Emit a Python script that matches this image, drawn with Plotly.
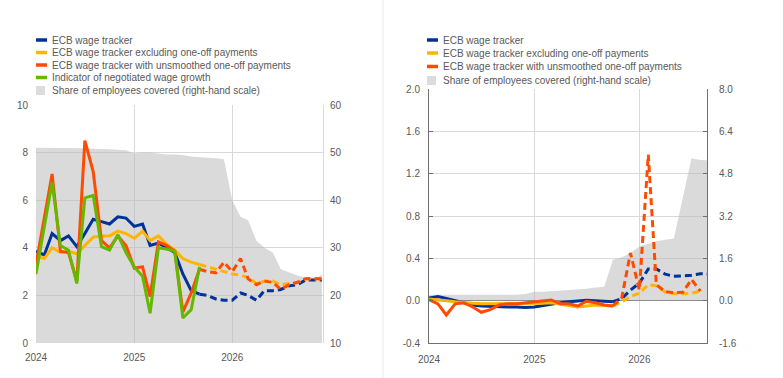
import plotly.graph_objects as go

W, H = 783, 378

# ---------------- data ----------------
months_left = [f"{y}-{m:02d}-01" for y in (2024, 2025, 2026) for m in range(1, 13)]  # Jan 2024 - Dec 2026
months_right = months_left[:33]  # Jan 2024 - Sep 2026

year_ticks = ["2024-01-01", "2025-01-01", "2026-01-01"]
year_labels = ["2024", "2025", "2026"]

# Left panel (percentages, annual growth)
tracker_L = [3.85, 3.7, 4.6, 4.3, 4.5, 4.05, 4.6, 5.2, 5.1, 5.0, 5.3, 5.25,
             4.9, 5.0, 4.1, 4.2, 4.0, 3.8, 2.9, 2.2, 2.05,
             2.0, 1.85, 1.8, 1.8, 2.1, 2.0, 1.8, 2.2, 2.2, 2.25, 2.4, 2.45, 2.65, 2.65, 2.65]
excl_L = [3.65, 3.55, 4.0, 3.8, 3.85, 3.75, 4.1, 4.45, 4.5, 4.5, 4.7, 4.6,
          4.4, 4.7, 4.3, 4.5, 4.15, 3.9, 3.55, 3.4, 3.3,
          3.2, 3.1, 3.0, 2.9, 2.85, 2.75, 2.5, 2.6, 2.6, 2.45, 2.5, 2.55, 2.7, 2.7, 2.7]
unsm_L = [3.3, 5.2, 7.1, 3.85, 3.8, 2.6, 8.5, 7.2, 4.3, 4.0, 4.5, 4.1,
          3.15, 3.2, 1.95, 4.25, 4.1, 3.85, 1.3, 2.1, 3.1,
          3.0, 2.95, 3.4, 3.0, 3.55, 2.7, 2.45, 2.6, 2.55, 2.25, 2.45, 2.55, 2.7, 2.7, 2.7]
negot_L = [2.9, 4.85, 6.75, 4.1, 3.9, 2.5, 6.1, 6.2, 4.05, 3.9, 4.55, 3.8,
           3.2, 2.8, 1.25, 4.0, 3.95, 3.85, 1.05, 1.4, 3.2]
share_L = [51.0, 51.0, 51.0, 50.9, 51.0, 51.0, 50.9, 50.8, 50.8, 50.7, 50.6, 50.5,
           49.8, 50.0, 50.0, 49.8, 49.6, 49.6, 49.5, 49.2, 49.0, 48.9, 48.8, 48.6,
           40.0, 36.5, 35.8, 31.5, 30.0, 29.0, 25.5, 24.8, 24.2, 23.7, 23.0, 24.5]
last_actual_L = 20  # Sep 2025

# Right panel (percentage points)
tracker_R = [0.025, 0.04, 0.02, 0.0, -0.02, -0.04, -0.05, -0.055, -0.055, -0.06, -0.06, -0.065,
             -0.06, -0.045, -0.03, -0.02, -0.01, -0.005, 0.005, 0.0, -0.005, -0.01,
             0.02, 0.1, 0.165, 0.3, 0.3, 0.25, 0.23, 0.235, 0.24, 0.255, 0.25]
excl_R = [0.015, 0.01, 0.0, -0.01, -0.02, -0.025, -0.03, -0.03, -0.03, -0.03, -0.03, -0.03,
          -0.03, -0.025, -0.02, -0.03, -0.045, -0.06, -0.05, -0.04, -0.045, -0.05,
          -0.01, 0.04, 0.07, 0.15, 0.14, 0.08, 0.065, 0.065, 0.07, 0.09]
unsm_R = [0.01, -0.03, -0.135, -0.03, -0.02, -0.06, -0.11, -0.085, -0.04, -0.03, -0.03, -0.02,
          -0.01, -0.005, 0.007, -0.03, -0.03, -0.05, -0.005, -0.02, -0.04, -0.05,
          0.03, 0.45, 0.1, 1.38, 0.15, 0.085, 0.075, 0.08, 0.2, 0.09]
share_R = [0.22, 0.22, 0.22, 0.22, 0.22, 0.22, 0.22, 0.22, 0.22, 0.22, 0.22, 0.25,
           0.34, 0.34, 0.36, 0.38, 0.4, 0.42, 0.45, 0.5, 0.53, 1.55,
           1.64, 1.8, 2.05, 2.15, 2.25, 2.3, 2.35, 3.9, 5.38, 5.32, 5.3]
last_actual_R = 21  # Oct 2025

yl_ticks = [0, 2, 4, 6, 8, 10]
yl2_ticks = [10, 20, 30, 40, 50, 60]
yr_ticks = [-0.4, 0.0, 0.4, 0.8, 1.2, 1.6, 2.0]
yr_labels = ["-0.4", "0.0", "0.4", "0.8", "1.2", "1.6", "2.0"]
yr2_ticks = [-1.6, 0.0, 1.6, 3.2, 4.8, 6.4, 8.0]
yr2_labels = ["-1.6", "0.0", "1.6", "3.2", "4.8", "6.4", "8.0"]

names = ["ECB wage tracker", "ECB wage tracker excluding one-off payments",
         "ECB wage tracker with unsmoothed one-off payments",
         "Indicator of negotiated wage growth", "Share of employees covered (right-hand scale)"]

# ---------------- style ----------------
BLUE, ORANGE, RED, GREEN = "#003299", "#ffb400", "#ff4b00", "#65b800"
FILL = "rgba(185,185,185,0.52)"
GRID = "#d9d9d9"
AXIS = "#707070"
TXT = "#595959"
FONT = "Liberation Sans, Arial, sans-serif"
LW = 3
DASH = "7px,4px"

fig = go.Figure()

# ---- left panel ----
fig.add_trace(go.Scatter(x=months_left, y=share_L, xaxis="x", yaxis="y", mode="lines",
                         line=dict(width=0, color=FILL), fill="tozeroy", fillcolor=FILL,
                         name=names[4], hoverinfo="skip"))


def add_split(x, vals, last, color, xa, ya, name):
    fig.add_trace(go.Scatter(x=x[:last + 1], y=vals[:last + 1], xaxis=xa, yaxis=ya, mode="lines",
                             line=dict(color=color, width=LW), name=name))
    fig.add_trace(go.Scatter(x=x[last:len(vals)], y=vals[last:], xaxis=xa, yaxis=ya, mode="lines",
                             line=dict(color=color, width=LW, dash=DASH), name=name))


add_split(months_left, tracker_L, last_actual_L, BLUE, "x", "y2", names[0])
add_split(months_left, excl_L, last_actual_L, ORANGE, "x", "y2", names[1])
add_split(months_left, unsm_L, last_actual_L, RED, "x", "y2", names[2])
fig.add_trace(go.Scatter(x=months_left[:len(negot_L)], y=negot_L, xaxis="x", yaxis="y2", mode="lines",
                         line=dict(color=GREEN, width=LW), name=names[3]))

# ---- right panel ----
fig.add_trace(go.Scatter(x=months_right[:len(share_R)], y=share_R, xaxis="x2", yaxis="y3", mode="lines",
                         line=dict(width=0, color=FILL), fill="tozeroy", fillcolor=FILL,
                         name=names[4], hoverinfo="skip"))
add_split(months_right, tracker_R, last_actual_R, BLUE, "x2", "y4", names[0])
add_split(months_right, excl_R, last_actual_R, ORANGE, "x2", "y4", names[1])
add_split(months_right, unsm_R, last_actual_R, RED, "x2", "y4", names[2])

for tr in fig.data:
    tr.showlegend = False

tickfont = dict(family=FONT, size=10, color=TXT)


def fx(px):
    return px / W


def fy(py):
    return 1 - py / H


fig.update_layout(
    width=W, height=H, autosize=False,
    margin=dict(l=0, r=0, t=0, b=0, pad=0, autoexpand=False),
    paper_bgcolor="white", plot_bgcolor="white",
    showlegend=False,
    font=dict(family=FONT, size=10, color=TXT),
    xaxis=dict(domain=[fx(36), fx(323)], anchor="y", type="date", automargin=False,
               range=["2024-01-01", "2026-12-05"], tickvals=year_ticks, ticktext=year_labels,
               showgrid=True, gridcolor=GRID, gridwidth=1, zeroline=False, showline=False,
               ticks="", tickfont=tickfont, ticklabelstandoff=7),
    yaxis=dict(domain=[fy(343), fy(105)], anchor="x", side="right", range=[10, 60], automargin=False,
               tickvals=yl2_ticks, showgrid=True, gridcolor=GRID, zeroline=False,
               showline=True, linecolor=GRID, linewidth=1, ticks="", tickfont=tickfont,
               ticklabelstandoff=4),
    yaxis2=dict(overlaying="y", anchor="x", side="left", range=[0, 10], tickvals=yl_ticks,
                automargin=False,
                showgrid=False, zeroline=False, showline=False, ticks="", tickfont=tickfont,
                ticklabelstandoff=7),
    xaxis2=dict(domain=[fx(429), fx(707)], anchor="y3", type="date", automargin=False,
                range=["2024-01-01", "2026-08-24"], tickvals=year_ticks, ticktext=year_labels,
                showgrid=True, gridcolor=GRID, zeroline=False, showline=True, linecolor=AXIS,
                linewidth=1, ticks="", tickfont=tickfont, ticklabelstandoff=7),
    yaxis3=dict(domain=[fy(343), fy(89)], anchor="x2", side="right", range=[-1.6, 8.0],
                automargin=False,
                tickvals=yr2_ticks, ticktext=yr2_labels, showgrid=True, gridcolor=GRID,
                zeroline=True, zerolinecolor=AXIS, zerolinewidth=1,
                showline=True, linecolor=AXIS, linewidth=1, ticks="inside", ticklen=4,
                tickcolor=AXIS, tickfont=tickfont, ticklabelstandoff=9),
    yaxis4=dict(overlaying="y3", anchor="x2", side="left", range=[-0.4, 2.0], automargin=False,
                tickvals=yr_ticks, ticktext=yr_labels, showgrid=False, zeroline=False,
                showline=True, linecolor=AXIS, linewidth=1, ticks="inside", ticklen=4,
                tickcolor=AXIS, tickfont=tickfont, ticklabelstandoff=6),
)

# ---- legends (drawn manually to match the compact row spacing) ----
shapes = []
annotations = []


def legend(x_icon, x_text, rows):
    for (label, color, kind), ypx in rows:
        if kind == "line":
            shapes.append(dict(type="line", xref="paper", yref="paper",
                               x0=fx(x_icon), x1=fx(x_icon + 11), y0=fy(ypx), y1=fy(ypx),
                               line=dict(color=color, width=3.5)))
        else:
            shapes.append(dict(type="rect", xref="paper", yref="paper",
                               x0=fx(x_icon), x1=fx(x_icon + 9), y0=fy(ypx + 4.5), y1=fy(ypx - 4.5),
                               line=dict(width=0), fillcolor="#dcdcdc"))
        annotations.append(dict(text=label, xref="paper", yref="paper", x=fx(x_text), y=fy(ypx),
                                xanchor="left", yanchor="middle", showarrow=False,
                                font=dict(family=FONT, size=10, color=TXT)))


legend(36, 50, [((names[0], BLUE, "line"), 40), ((names[1], ORANGE, "line"), 52.5),
                ((names[2], RED, "line"), 65), ((names[3], GREEN, "line"), 77.5),
                ((names[4], "#dcdcdc", "rect"), 90.5)])
legend(427, 441, [((names[0], BLUE, "line"), 40), ((names[1], ORANGE, "line"), 53),
                  ((names[2], RED, "line"), 66.5), ((names[4], "#dcdcdc", "rect"), 80.5)])

# divider between the panels
shapes.append(dict(type="line", xref="paper", yref="paper", x0=fx(383), x1=fx(383), y0=0, y1=1,
                   line=dict(color="#e8e8e8", width=1)))

fig.update_layout(shapes=shapes, annotations=annotations)

fig.write_html("out.html", config={"displayModeBar": False},
               post_script="document.body.style.margin='0';document.body.style.overflow='hidden';")
